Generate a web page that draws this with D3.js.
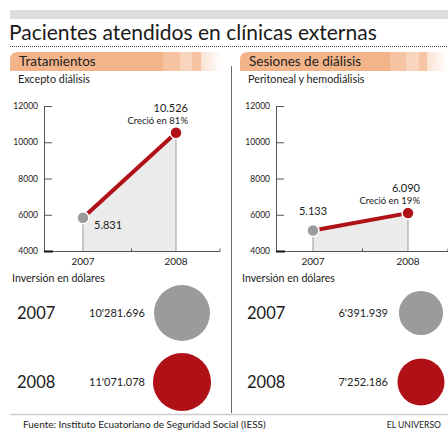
<!DOCTYPE html>
<html>
<head>
<meta charset="utf-8">
<script src="https://cdn.jsdelivr.net/npm/d3@7"></script>
<style>
  body { margin: 0; background: #fff; }
  svg { display: block; font-family: Lato, "Open Sans", sans-serif; }
</style>
</head>
<body>
<svg id="chart" width="448" height="437"></svg>
<script>
// Chart data
const years = ["2007", "2008"];
const tratamientos = [5831, 10526];
const sesiones = [5133, 6090];
const yTicks = [4000, 6000, 8000, 10000, 12000];
const inversionTrat = [10281696, 11071078];
const inversionSes = [6391939, 7252186];
const panelTitles = ["Tratamientos", "Sesiones de diálisis"];
const panelSubtitles = ["Excepto diálisis", "Peritoneal y hemodiálisis"];
const growthLabels = ["Creció en 81%", "Creció en 19%"];

const red = "#b01117";
const grey = "#9a9b9d";

const svg = d3.select("#chart");

// number formats: 10.526 and 10'281.696
const fmtThousands = v => d3.format(",")(v).replace(/,/g, ".");
const fmtMoney = v => {
  const s = d3.format(",")(v).split(",");
  return s.length > 2 ? s[0] + "'" + s.slice(1).join(".") : s.join(".");
};

// Header
svg.append("rect").attr("x", 10).attr("y", 10).attr("width", 438).attr("height", 9).attr("fill", "#dcdddf");
svg.append("text").attr("x", 9).attr("y", 40)
  .attr("font-size", 21).attr("fill", "#1a1a1a")
  .text("Pacientes atendidos en clínicas externas");
svg.append("line").attr("x1", 10).attr("x2", 448).attr("y1", 46.5).attr("y2", 46.5)
  .attr("stroke", "#444").attr("stroke-width", 1).attr("stroke-dasharray", "1,1");

// Orange striped gradient for section headers
const defs = svg.append("defs");
const grad = defs.append("linearGradient").attr("id", "hdr");
[[0, "#f4b48a"], [0.72, "#f4b48a"], [0.72, "#f6c4a3"], [0.8, "#f6c4a3"],
 [0.8, "#f9d5bd"], [0.86, "#f9d5bd"], [0.86, "#f6c4a3"], [0.9, "#f6c4a3"],
 [0.9, "#fbe2d2"], [1, "#ffffff"]]
  .forEach(([o, c]) => grad.append("stop").attr("offset", o).attr("stop-color", c));

// divider
svg.append("line").attr("x1", 231.5).attr("x2", 231.5).attr("y1", 66).attr("y2", 413)
  .attr("stroke", "#666").attr("stroke-width", 1);

// bottom rule and footer
svg.append("line").attr("x1", 10).attr("x2", 448).attr("y1", 414.5).attr("y2", 414.5)
  .attr("stroke", "#ccc").attr("stroke-width", 1.5);
svg.append("text").attr("x", 23).attr("y", 428).attr("font-size", 10).attr("fill", "#222")
  .text("Fuente: Instituto Ecuatoriano de Seguridad Social (IESS)");
svg.append("text").attr("x", 441).attr("y", 428).attr("font-size", 8.6).attr("fill", "#222")
  .attr("text-anchor", "end").text("EL UNIVERSO");

const y = d3.scaleLinear().domain([4000, 12000]).range([251, 106]);
const r = d3.scaleSqrt().domain([0, inversionTrat[0]]).range([0, 28]);

const panels = [
  { x0: 10, hdrW: 212, axisX: 44, px: [83, 176], endX: 220, values: tratamientos, inv: inversionTrat,
    valX: 145, circX: 182 },
  { x0: 240, hdrW: 208, axisX: 276, px: [313, 408], endX: 448, values: sesiones, inv: inversionSes,
    valX: 388, circX: 421 }
];

panels.forEach((p, i) => {
  const g = svg.append("g");

  // section header bar with rounded top-left corner
  const h = 19, rr = 8, x0 = p.x0, y0 = 52;
  g.append("path")
    .attr("d", `M${x0},${y0 + h} V${y0 + rr} Q${x0},${y0} ${x0 + rr},${y0} H${x0 + p.hdrW} V${y0 + h} Z`)
    .attr("fill", "url(#hdr)");
  g.append("text").attr("x", x0 + 9).attr("y", 66).attr("font-size", 13.5).attr("fill", "#222")
    .text(panelTitles[i]);
  g.append("text").attr("x", x0 + 8).attr("y", 83).attr("font-size", 10.8).attr("fill", "#222")
    .text(panelSubtitles[i]);

  const x = d3.scalePoint().domain(years).range(p.px);
  const pts = years.map((yr, k) => [x(yr), y(p.values[k])]);

  // shaded area under the line
  g.append("path")
    .datum(years.map((yr, k) => ({ yr, v: p.values[k] })))
    .attr("d", d3.area().x(d => x(d.yr)).y0(y(4000)).y1(d => y(d.v)))
    .attr("fill", "#ebebec");

  // drop lines
  g.selectAll("line.drop").data(pts).join("line")
    .attr("x1", d => d[0]).attr("x2", d => d[0])
    .attr("y1", d => d[1]).attr("y2", y(4000))
    .attr("stroke", "#999").attr("stroke-width", 1);

  // y axis
  const ax = g.append("g").attr("transform", `translate(${p.axisX},0)`)
    .call(d3.axisLeft(y).tickValues(yTicks).tickSizeInner(-8).tickSizeOuter(0).tickPadding(6)
      .tickFormat(d3.format("d")));
  ax.select(".domain").attr("stroke", "#555");
  ax.selectAll(".tick line").attr("stroke", "#555");
  ax.selectAll(".tick text").attr("font-size", 8.5).attr("fill", "#222")
    .attr("font-family", "Lato, sans-serif");

  // x baseline
  const by = y(4000) + 0.5;
  g.append("line").attr("x1", p.axisX).attr("x2", p.endX).attr("y1", by).attr("y2", by)
    .attr("stroke", "#555").attr("stroke-width", 1);
  g.append("line").attr("x1", p.axisX).attr("x2", p.axisX + 9).attr("y1", by).attr("y2", by)
    .attr("stroke", "#111").attr("stroke-width", 2);
  [(p.px[0] + p.px[1]) / 2 + 2, p.endX].forEach(tx => {
    g.append("line").attr("x1", tx).attr("x2", tx).attr("y1", by).attr("y2", by - 3)
      .attr("stroke", "#555");
  });
  g.selectAll("text.year").data(years).join("text")
    .attr("x", d => x(d)).attr("y", 265).attr("text-anchor", "middle")
    .attr("font-size", 10).attr("fill", "#222").text(d => d);

  // red growth line
  g.append("line")
    .attr("x1", pts[0][0]).attr("y1", pts[0][1]).attr("x2", pts[1][0]).attr("y2", pts[1][1])
    .attr("stroke", red).attr("stroke-width", 4);

  // points
  g.selectAll("circle.pt").data(pts).join("circle")
    .attr("cx", d => d[0]).attr("cy", d => d[1]).attr("r", 6)
    .attr("fill", (d, k) => k === 0 ? grey : red)
    .attr("stroke", "#fff").attr("stroke-width", 1.5);

  // value labels
  if (i === 0) {
    g.append("text").attr("x", pts[0][0] + 11).attr("y", pts[0][1] + 11).attr("font-size", 11)
      .attr("fill", "#222").text(fmtThousands(p.values[0]));
  } else {
    g.append("text").attr("x", pts[0][0]).attr("y", pts[0][1] - 15).attr("font-size", 11)
      .attr("text-anchor", "middle").attr("fill", "#222").text(fmtThousands(p.values[0]));
  }
  g.append("text").attr("x", pts[1][0] + 12).attr("y", pts[1][1] - 21).attr("font-size", 11)
    .attr("text-anchor", "end").attr("fill", "#222").text(fmtThousands(p.values[1]));
  g.append("text").attr("x", pts[1][0] + 12).attr("y", pts[1][1] - 9).attr("font-size", 9.5)
    .attr("text-anchor", "end").attr("fill", "#222").text(growthLabels[i]);

  // investment section
  g.append("text").attr("x", x0 + 2).attr("y", 282).attr("font-size", 10.6).attr("fill", "#222")
    .text("Inversión en dólares");
  const rowY = [313, 382];
  p.inv.forEach((v, k) => {
    g.append("text").attr("x", x0 + 7).attr("y", rowY[k] + 6).attr("font-size", 16.5)
      .attr("fill", "#1a1a1a").text(years[k]);
    g.append("text").attr("x", p.valX).attr("y", rowY[k] + 4).attr("font-size", 11)
      .attr("text-anchor", "end").attr("fill", "#222").text(fmtMoney(v));
    g.append("circle").attr("cx", p.circX).attr("cy", rowY[k]).attr("r", r(v))
      .attr("fill", k === 0 ? grey : red);
  });
});
</script>
</body>
</html>
